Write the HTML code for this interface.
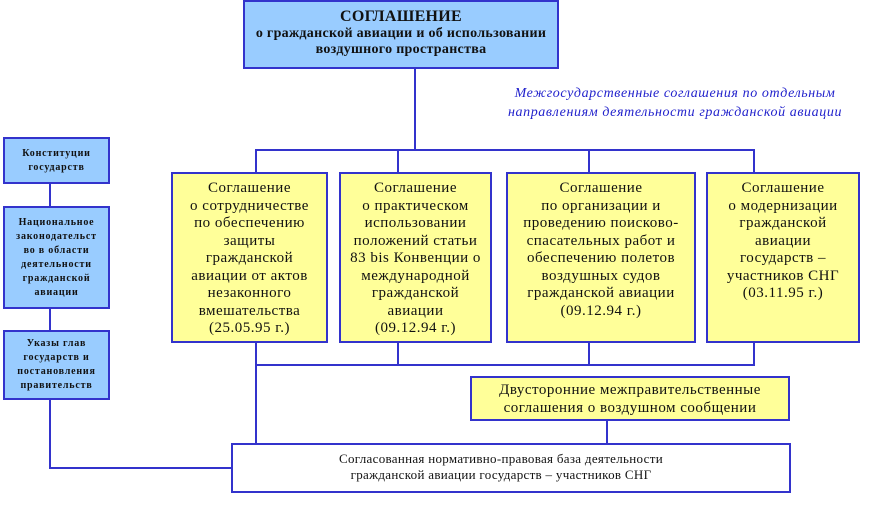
<!DOCTYPE html>
<html><head><meta charset="utf-8"><style>
body{margin:0;width:877px;height:505px;background:#fff;position:relative;overflow:hidden;font-family:"Liberation Serif","DejaVu Serif",serif;}
.b{position:absolute;box-sizing:border-box;border:2px solid #3333cc;text-align:center;color:#111;display:flex;align-items:flex-start;justify-content:center;white-space:nowrap;}
.blue{background:#99ccff;}
.y{background:#ffff99;font-size:15px;letter-spacing:0.5px;line-height:17.5px;padding-top:6px;}
.w{background:#fff;}
.l{position:absolute;background:#3333cc;}
.s{font-size:10px;line-height:14px;font-weight:bold;align-items:center;letter-spacing:0.8px;}
</style></head><body>
<div class="l" style="left:414px;top:68px;width:2px;height:83px"></div>
<div class="l" style="left:255px;top:149px;width:500px;height:2px"></div>
<div class="l" style="left:255px;top:149px;width:2px;height:295px"></div>
<div class="l" style="left:397px;top:149px;width:2px;height:24px"></div>
<div class="l" style="left:588px;top:149px;width:2px;height:24px"></div>
<div class="l" style="left:753px;top:149px;width:2px;height:24px"></div>
<div class="l" style="left:255px;top:364px;width:500px;height:2px"></div>
<div class="l" style="left:397px;top:342px;width:2px;height:23px"></div>
<div class="l" style="left:588px;top:342px;width:2px;height:23px"></div>
<div class="l" style="left:753px;top:342px;width:2px;height:23px"></div>
<div class="l" style="left:606px;top:420px;width:2px;height:24px"></div>
<div class="l" style="left:49px;top:183px;width:2px;height:285px"></div>
<div class="l" style="left:49px;top:467px;width:183px;height:2px"></div>

<div class="b blue" style="left:243px;top:0;width:316px;height:69px;font-weight:bold;font-size:14px;line-height:16px;padding-top:7px;letter-spacing:0.3px;"><div><span style="font-size:16px">СОГЛАШЕНИЕ</span><br>о гражданской авиации и об использовании<br>воздушного пространства</div></div>
<div style="position:absolute;left:480px;top:84px;width:390px;text-align:center;font-style:italic;color:#2222cc;font-size:14px;letter-spacing:0.6px;line-height:19px;">Межгосударственные соглашения по отдельным<br>направлениям деятельности гражданской авиации</div>

<div class="b blue s" style="left:3px;top:137px;width:107px;height:47px;"><div>Конституции<br>государств</div></div>
<div class="b blue s" style="left:3px;top:206px;width:107px;height:103px;"><div>Национальное<br>законодательст<br>во в области<br>деятельности<br>гражданской<br>авиации</div></div>
<div class="b blue s" style="left:3px;top:330px;width:107px;height:70px;"><div>Указы глав<br>государств и<br>постановления<br>правительств</div></div>

<div class="b y" style="left:171px;top:172px;width:157px;height:171px;"><div>Соглашение<br>о сотрудничестве<br>по обеспечению<br>защиты<br>гражданской<br>авиации от актов<br>незаконного<br>вмешательства<br>(25.05.95 г.)</div></div>
<div class="b y" style="left:339px;top:172px;width:153px;height:171px;"><div>Соглашение<br>о практическом<br>использовании<br>положений статьи<br>83 bis Конвенции о<br>международной<br>гражданской<br>авиации<br>(09.12.94 г.)</div></div>
<div class="b y" style="left:506px;top:172px;width:190px;height:171px;"><div>Соглашение<br>по организации и<br>проведению поисково-<br>спасательных работ и<br>обеспечению полетов<br>воздушных судов<br>гражданской авиации<br>(09.12.94 г.)</div></div>
<div class="b y" style="left:706px;top:172px;width:154px;height:171px;"><div>Соглашение<br>о модернизации<br>гражданской<br>авиации<br>государств –<br>участников СНГ<br>(03.11.95 г.)</div></div>

<div class="b y" style="left:470px;top:376px;width:320px;height:45px;padding-top:4px;"><div>Двусторонние межправительственные<br>соглашения о воздушном сообщении</div></div>
<div class="b w" style="left:231px;top:443px;width:560px;height:50px;font-size:13px;letter-spacing:0.3px;line-height:16px;padding-top:6px;padding-right:20px;"><div>Согласованная нормативно-правовая база деятельности<br>гражданской авиации государств – участников СНГ</div></div>
</body></html>
